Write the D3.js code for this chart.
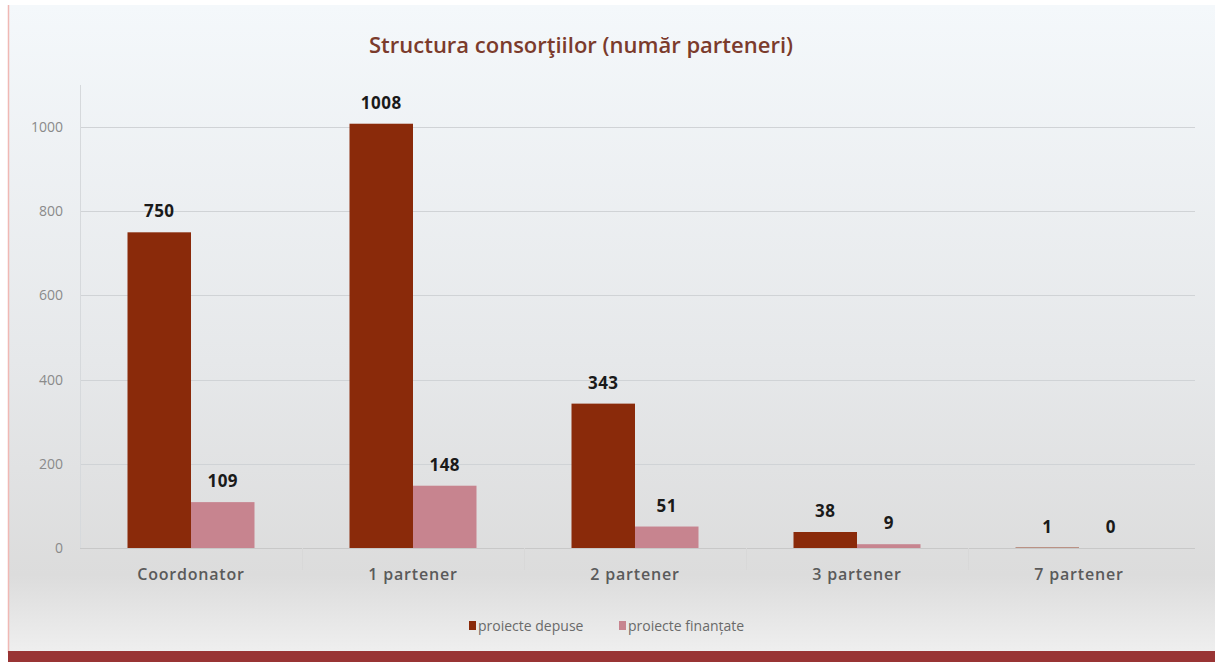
<!DOCTYPE html>
<html><head><meta charset="utf-8">
<script src="https://cdn.jsdelivr.net/npm/d3@7"></script>
<style>html,body{margin:0;padding:0;background:#fff;}svg{display:block;}</style>
</head><body>
<script>
const categories = ["Coordonator", "1 partener", "2 partener", "3 partener", "7 partener"];
const seriesNames = ["proiecte depuse", "proiecte finanțate"];
const depuse = [750, 1008, 343, 38, 1];
const finantate = [109, 148, 51, 9, 0];
const yTicks = [0, 200, 400, 600, 800, 1000];
const colors = ["#8a2a0a", "#c7848f"];
const title = "Structura consorţiilor (număr parteneri)";

const W = 1215, H = 662;
const svg = d3.select("body").append("svg").attr("width", W).attr("height", H);
const defs = svg.append("defs");
const g1 = defs.append("linearGradient").attr("id","bg").attr("x1",0).attr("y1",0).attr("x2",0).attr("y2",1);
g1.append("stop").attr("offset","0%").attr("stop-color","#f4f8fb");
g1.append("stop").attr("offset","55%").attr("stop-color","#e6e8ea");
g1.append("stop").attr("offset","88%").attr("stop-color","#dcdcdc");
g1.append("stop").attr("offset","100%").attr("stop-color","#efefef");

svg.append("rect").attr("x",0).attr("y",0).attr("width",W).attr("height",H).attr("fill","#ffffff");
svg.append("rect").attr("x",8).attr("y",5).attr("width",W-8).attr("height",648).attr("fill","url(#bg)");
svg.append("line").attr("x1",8.5).attr("x2",8.5).attr("y1",5).attr("y2",653).attr("stroke","#f0b8b4").attr("stroke-width",1.5);
svg.append("rect").attr("x",8).attr("y",651).attr("width",W-8).attr("height",11).attr("fill","#993434");

const m = {left: 80, right: 1190, top: 85, bottom: 548};
const x0 = d3.scaleBand().domain(categories).range([m.left, m.right]).paddingInner(0).paddingOuter(0);
const x1 = d3.scaleBand().domain(seriesNames).range([0, 127]);
const y = d3.scaleLinear().domain([0, 1100]).range([m.bottom, m.top]);

// gridlines
svg.append("g").selectAll("line").data(yTicks).join("line")
  .attr("x1", m.left).attr("x2", 1195)
  .attr("y1", d => Math.round(y(d)) + 0.5).attr("y2", d => Math.round(y(d)) + 0.5)
  .attr("stroke", d => d === 0 ? "#c8c8c8" : "#d0d3d6").attr("stroke-width", 1);
// y-axis line
svg.append("line").attr("x1", m.left + 0.5).attr("x2", m.left + 0.5).attr("y1", m.top).attr("y2", m.bottom)
  .attr("stroke", "#d6d9dc");
// category separators
svg.append("g").selectAll("line").data(categories.slice(1)).join("line")
  .attr("x1", d => Math.round(x0(d)) + 0.5).attr("x2", d => Math.round(x0(d)) + 0.5)
  .attr("y1", m.bottom).attr("y2", m.bottom + 22).attr("stroke", "#d8d8d8");

// y tick labels
const yAxis = d3.axisLeft(y).tickValues(yTicks).tickSize(0).tickPadding(17).tickFormat(d3.format("d"));
const ya = svg.append("g").attr("transform", `translate(${m.left},0)`).call(yAxis);
ya.select(".domain").remove();
ya.selectAll("text").attr("font-family", "'Open Sans', sans-serif").attr("font-size", 14)
  .attr("fill", "#8a8a8a");

// x labels
const xAxis = d3.axisBottom(x0).tickSize(0).tickPadding(21);
const xa = svg.append("g").attr("transform", `translate(0,${m.bottom})`).call(xAxis);
xa.select(".domain").remove();
xa.selectAll("text").attr("font-family", "'Open Sans', sans-serif").attr("font-size", 16)
  .attr("font-weight", 600).attr("letter-spacing", "0.8px").attr("fill", "#5a5a5a");

// bars
const data = categories.map((c, i) => ({c, vals: [depuse[i], finantate[i]]}));
const groupOffset = (x0.bandwidth() - 127) / 2;
const grp = svg.append("g").selectAll("g").data(data).join("g")
  .attr("transform", d => `translate(${x0(d.c) + groupOffset},0)`);
grp.selectAll("rect").data(d => d.vals.map((v, j) => ({v, s: seriesNames[j], j}))).join("rect")
  .attr("x", d => x1(d.s)).attr("width", x1.bandwidth())
  .attr("y", d => y(d.v)).attr("height", d => y(0) - y(d.v))
  .attr("fill", d => colors[d.j]);
grp.selectAll("text").data(d => d.vals.map((v, j) => ({v, s: seriesNames[j], j}))).join("text")
  .attr("x", d => x1(d.s) + x1.bandwidth() / 2)
  .attr("y", d => y(d.v) - 15)
  .attr("text-anchor", "middle")
  .attr("font-family", "'Open Sans', sans-serif").attr("font-size", 17).attr("font-weight", 700)
  .attr("letter-spacing", "0.5px")
  .attr("fill", "#1a1a1a").text(d => d.v);

// title
svg.append("text").attr("x", 581).attr("y", 53).attr("text-anchor", "middle")
  .attr("font-family", "'Open Sans', sans-serif").attr("font-size", 22).attr("font-weight", 600)
  .attr("fill", "#7b3b2c").text(title);

// legend
const leg = svg.append("g").attr("transform", "translate(469,627)");
const legX = [0, 150];
seriesNames.forEach((s, i) => {
  const lg = leg.append("g").attr("transform", `translate(${legX[i]},0)`);
  lg.append("rect").attr("x", 0).attr("y", -6).attr("width", 7).attr("height", 9).attr("fill", colors[i]);
  lg.append("text").attr("x", 9).attr("y", 4).attr("font-family", "'Open Sans', sans-serif")
    .attr("font-size", 14).attr("fill", "#6a6a6a").text(s);
});
</script>
</body></html>
